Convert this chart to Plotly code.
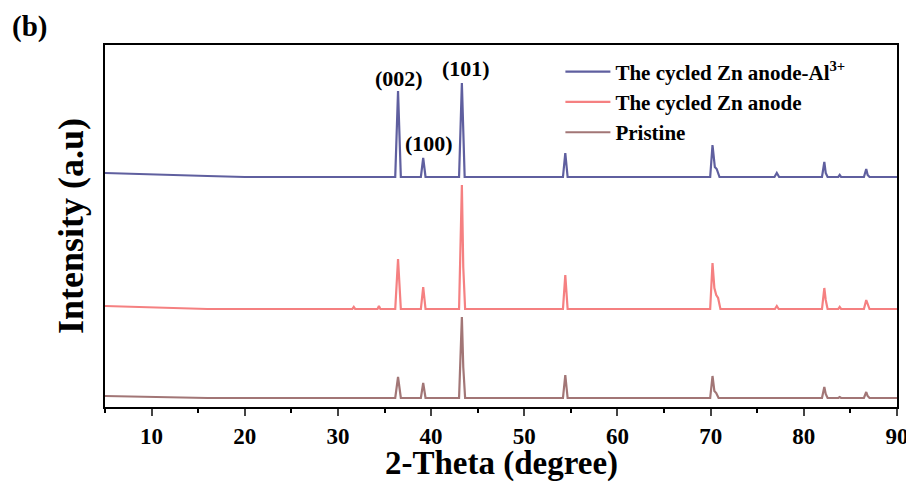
import plotly.graph_objects as go

# 2-theta (degree) and intensity (a.u., offset stacked)
al_x = [5, 8, 12, 16, 20, 36.15, 36.45, 36.75, 38.9, 39.15, 39.4, 43.0, 43.3, 43.6,
        54.15, 54.4, 54.65, 69.95, 70.2, 70.45, 70.65, 70.95, 76.85, 77.1, 77.35,
        81.95, 82.2, 82.35, 82.55, 83.7, 83.85, 84.0, 86.45, 86.7, 86.85, 87.05, 90]
al_y = [234, 233, 232, 231, 230, 230, 316, 230, 230, 249, 230, 230, 324, 230,
        230, 254, 230, 230, 262, 240, 238, 230, 230, 234, 230,
        230, 245, 234, 230, 230, 232, 230, 230, 238, 232, 230, 230]

cyc_x = [5, 8, 12, 16, 31.55, 31.7, 31.85, 34.25, 34.4, 34.55, 36.15, 36.45, 36.75,
         38.9, 39.15, 39.4, 43.0, 43.3, 43.45, 43.65, 54.15, 54.4, 54.65,
         69.95, 70.2, 70.4, 70.6, 70.8, 71.05, 76.9, 77.1, 77.3,
         81.95, 82.2, 82.35, 82.55, 83.7, 83.85, 84.0, 86.45, 86.7, 86.85, 87.05, 90]
cyc_y = [101, 100, 99, 98, 98, 100, 98, 98, 101, 98, 98, 148, 98,
         98, 120, 98, 98, 222, 140, 98, 98, 132, 98,
         98, 144, 119, 112, 109, 98, 98, 101, 98,
         98, 119, 107, 98, 98, 100, 98, 98, 107, 102, 98, 98]

pri_x = [5, 8, 12, 16, 36.15, 36.45, 36.75, 38.9, 39.15, 39.4, 43.0, 43.3, 43.45, 43.65,
         54.15, 54.4, 54.65, 69.95, 70.2, 70.4, 70.6, 70.85,
         81.95, 82.2, 82.35, 82.55, 83.7, 83.85, 84.0, 86.45, 86.7, 86.85, 87.05, 90]
pri_y = [11, 10.5, 10, 9, 9, 30, 9, 9, 24, 9, 9, 90, 40, 9,
         9, 32, 9, 9, 31, 16, 14, 9,
         9, 20, 13, 9, 9, 10, 9, 9, 15, 11, 9, 9]

series_names = ["The cycled Zn anode-Al<sup>3+</sup>", "The cycled Zn anode", "Pristine"]
peak_labels = ["(002)", "(100)", "(101)"]
peak_label_x = [36.55, 39.77, 43.74]
peak_label_y = [329, 264, 339]
x_ticks = [10, 20, 30, 40, 50, 60, 70, 80, 90]
x_title = "2-Theta (degree)"
y_title = "Intensity (a.u)"

FONT = "Liberation Serif"
colors = ["#5F5F9F", "#F58081", "#A27676"]

fig = go.Figure()
for xs, ys, name, c in zip([al_x, cyc_x, pri_x], [al_y, cyc_y, pri_y], series_names, colors):
    fig.add_trace(go.Scatter(x=xs, y=ys, mode="lines", name=name,
                             line=dict(color=c, width=2.2)))

for t, px, py in zip(peak_labels, peak_label_x, peak_label_y):
    fig.add_annotation(x=px, y=py, text=t, showarrow=False,
                       font=dict(family=FONT, size=22, color="black", weight="bold"))

fig.add_annotation(x=-0.095, y=1.05, xref="paper", yref="paper", text="(b)",
                   xanchor="center", yanchor="middle", showarrow=False,
                   font=dict(family=FONT, size=29, color="black", weight="bold"))

fig.add_annotation(x=0.5, y=-0.213, xref="paper", yref="paper", text=x_title,
                   xanchor="center", yanchor="bottom", showarrow=False,
                   font=dict(family=FONT, size=33, color="black", weight="bold"))

# page body has an 8px margin, so the figure is 8px smaller and margins shifted
fig.update_layout(
    width=906, height=477,
    margin=dict(l=97, r=17, t=37, b=78, autoexpand=False),
    paper_bgcolor="white", plot_bgcolor="white",
    font=dict(family=FONT, color="black"),
    showlegend=True,
    legend=dict(x=0.575, y=0.982, xanchor="left", yanchor="top",
                bgcolor="rgba(0,0,0,0)", itemwidth=45, tracegroupgap=0,
                font=dict(family=FONT, size=21, color="black", weight="bold")),
    xaxis=dict(range=[5, 90], tickvals=x_ticks, ticks="outside", ticklen=7, tickwidth=2,
               showline=True, linecolor="black", linewidth=2, mirror=True,
               showgrid=False, zeroline=False, automargin=False,
               minor=dict(dtick=5, tick0=0, ticks="outside", ticklen=4, tickwidth=2, tickcolor="black"),
               tickfont=dict(family=FONT, size=23, color="black", weight="bold")),
    yaxis=dict(range=[0, 362], showticklabels=False, ticks="",
               showline=True, linecolor="black", linewidth=2, mirror=True,
               showgrid=False, zeroline=False, automargin=False,
               title=dict(text=y_title, standoff=8,
                          font=dict(family=FONT, size=36, color="black", weight="bold"))),
)

fig.write_html("out.html")
